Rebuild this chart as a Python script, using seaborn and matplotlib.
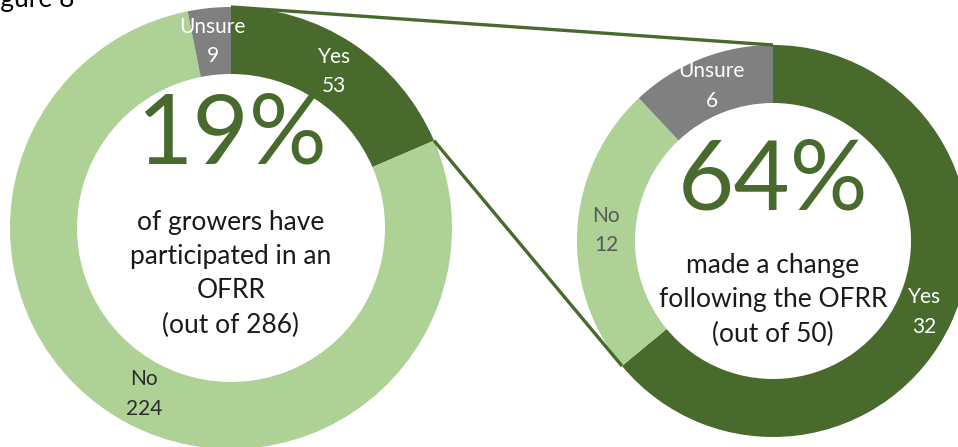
import numpy as np
import matplotlib
matplotlib.use("Agg")
import matplotlib.pyplot as plt
import seaborn as sns

# ---- data ----
categories = ["Yes", "No", "Unsure"]
participated = [53, 224, 9]          # growers who took part in an OFRR (out of 286)
changed = [32, 12, 6]                # of those, made a change afterwards (out of 50)
headline_left = "19%"
caption_left = "of growers have\nparticipated in an\nOFRR\n(out of 286)"
headline_right = "64%"
caption_right = "made a change\nfollowing the OFRR\n(out of 50)"
title = "Figure 8"

DARK = "#486A2D"
LIGHT = "#AED195"
GREY = "#808080"
palette = [DARK, LIGHT, GREY]

sns.set_theme(style="white")
plt.rcParams["font.family"] = ["Lato", "DejaVu Sans"]

W, H = 958, 447
fig = plt.figure(figsize=(W / 100, H / 100), dpi=100)
ax = fig.add_axes([0, 0, 1, 1])


def donut(values, center, radius, hole, label_colors):
    wedges, _ = ax.pie(values, colors=palette, startangle=90, counterclock=False,
                       radius=radius, center=center, frame=True,
                       wedgeprops=dict(width=radius - hole, edgecolor="none"))
    mid_r = (radius + hole) / 2
    for w, cat, val, tc in zip(wedges, categories, values, label_colors):
        ang = np.deg2rad((w.theta1 + w.theta2) / 2)
        ax.text(center[0] + mid_r * np.cos(ang), center[1] + mid_r * np.sin(ang),
                f"{cat}\n{val}", ha="center", va="center", color=tc,
                fontsize=15, linespacing=1.6)
    return wedges


# left donut
lc, lR, lr = (231, H - 228), 221, 154
lw = donut(participated, lc, lR, lr, ["white", "#2b2b2b", "white"])
# right donut
rc, rR, rr = (773, H - 241), 196, 138
rw = donut(changed, rc, rR, rr, ["white", "#595959", "white"])


def rim_point(center, radius, theta_deg):
    t = np.deg2rad(theta_deg)
    return center[0] + radius * np.cos(t), center[1] + radius * np.sin(t)


# connectors linking the "Yes" slice to the breakdown donut
yes_l, yes_r = lw[0], rw[0]
for tl, tr in [(yes_l.theta2, yes_r.theta2), (yes_l.theta1, yes_r.theta1)]:
    p1 = rim_point(lc, lR, tl)
    p2 = rim_point(rc, rR, tr)
    ax.plot([p1[0], p2[0]], [p1[1], p2[1]], color=DARK, lw=2.4,
            solid_capstyle="butt", zorder=5)

# centre text
ax.text(lc[0], H - 137, headline_left, ha="center", va="center",
        color=DARK, fontsize=70)
ax.text(lc[0], H - 274, caption_left, ha="center", va="center",
        color="#1a1a1a", fontsize=19, linespacing=1.45)
ax.text(rc[0], H - 183, headline_right, ha="center", va="center",
        color=DARK, fontsize=70)
ax.text(rc[0], H - 300, caption_right, ha="center", va="center",
        color="#1a1a1a", fontsize=19, linespacing=1.45)

ax.text(-21, H - 7, title, ha="left", va="baseline", color="black", fontsize=19)

ax.set_xlim(0, W)
ax.set_ylim(0, H)
ax.set_aspect("equal")
ax.axis("off")
fig.savefig("out.png", dpi=100)
